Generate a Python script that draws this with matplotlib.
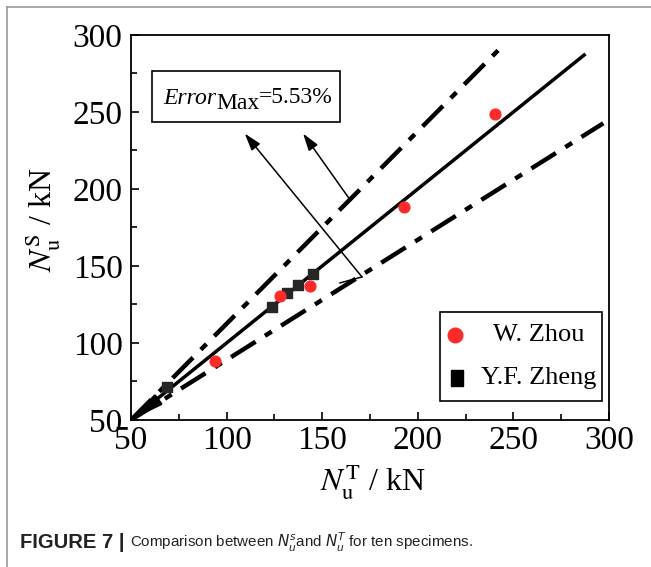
import matplotlib
matplotlib.use("Agg")
import matplotlib.pyplot as plt
from matplotlib.lines import Line2D
from matplotlib.patches import Rectangle

# test vs. simulated ultimate load, kN
zhou_test = [93.9, 127.9, 143.6, 192.8, 240.5]
zhou_sim = [88.5, 130.7, 137.2, 188.1, 248.7]
zheng_test = [68.8, 123.7, 131.6, 137.3, 145.2]
zheng_sim = [71.4, 123.4, 132.5, 137.7, 144.8]

# reference lines start at (50, 50)
origin = 50
solid_end = 287
upper_slope, upper_end = 1.25, 246
lower_slope, lower_end = 0.78, 297

ticks = [50, 100, 150, 200, 250, 300]
minor_ticks = [75, 125, 175, 225, 275]

plt.rcParams['font.family'] = ['Liberation Serif', 'DejaVu Serif']
plt.rcParams['mathtext.fontset'] = 'stix'

W, H = 651, 567
fig = plt.figure(figsize=(W / 100, H / 100), dpi=100)
ax = fig.add_axes([0.2012, 0.2593, 0.7343, 0.679])
ax.set_xlim(50, 300)
ax.set_ylim(50, 300)

ax.plot([origin, solid_end], [origin, solid_end], color='black', lw=2.5, zorder=2)
dash = (6.5, 2.5, 1.8, 2.5)
ax.plot([origin, upper_end], [origin, origin + upper_slope * (upper_end - origin)],
        color='black', lw=3.2, dashes=dash, zorder=2)
ax.plot([origin, lower_end], [origin, origin + lower_slope * (lower_end - origin)],
        color='black', lw=3.2, dashes=dash, zorder=2)

ax.annotate('', xy=(50.3, 50.3), xytext=(64, 63),
            arrowprops=dict(arrowstyle='-|>,head_length=0.9,head_width=0.18',
                            color='black', lw=2.2, mutation_scale=20,
                            shrinkA=0, shrinkB=0), zorder=3)

ax.scatter(zhou_test, zhou_sim, marker='o', s=60, color='#ff2a2a', zorder=4)
ax.scatter(zheng_test, zheng_sim, marker='s', s=55, color='#262626', zorder=3)

# error box with pointers to the bounds
ax.add_patch(Rectangle((61, 243.5), 98.3, 33.1, fill=False, ec='black', lw=1.2, zorder=5))
fig.canvas.draw()
x0, y0 = ax.transData.transform((66.7, 255.0))
t1 = fig.text(x0 / W, y0 / H, 'Error', fontsize=17, style='italic', va='baseline')
fig.canvas.draw()
x1 = t1.get_window_extent().x1
t2 = fig.text(x1 / W, (y0 - 5) / H, 'Max', fontsize=17, va='baseline')
fig.canvas.draw()
x2 = t2.get_window_extent().x1
fig.text(x2 / W, (y0 + 1) / H, '=5.53%', fontsize=17, va='baseline')

arrow_kw = dict(arrowstyle='-|>,head_length=0.7,head_width=0.22', color='black',
                lw=1.1, mutation_scale=15, shrinkA=0, shrinkB=0)
ax.annotate('', xy=(140, 236), xytext=(164.5, 193.1), arrowprops=arrow_kw)
ax.annotate('', xy=(109.5, 236), xytext=(170.8, 142.9), arrowprops=arrow_kw)
ax.plot([170.8, 159.3], [142.9, 139.0], color='black', lw=1.1)

ax.set_xticks(ticks)
ax.set_yticks(ticks)
ax.set_xticks(minor_ticks, minor=True)
ax.set_yticks(minor_ticks, minor=True)
ax.tick_params(which='both', direction='in', labelsize=24, width=1.2)
ax.tick_params(axis='x', pad=4)
ax.tick_params(axis='y', pad=6)
ax.tick_params(which='major', length=6)
ax.tick_params(which='minor', length=4)
for s in ax.spines.values():
    s.set_linewidth(1.3)

ax.set_xlabel(r'$N_{\mathrm{u}}^{\mathrm{T}}$ / kN', fontsize=23)
ax.set_ylabel(r'$N_{\mathrm{u}}^{\mathrm{S}}$ / kN', fontsize=23)
ax.xaxis.set_label_coords(0.506, -0.11)
ax.yaxis.set_label_coords(-0.145, 0.52)

# legend box, labels centred in the right part
ax.add_patch(Rectangle((0.6464, 0.0494), 0.339, 0.2311, transform=ax.transAxes,
                       fill=False, ec='black', lw=1.2, zorder=6))
ax.plot([0.678], [0.221], marker='o', ms=10.5, color='#ff2a2a', ls='none',
        transform=ax.transAxes, zorder=6)
rect_marker = [(-0.72, -1), (0.72, -1), (0.72, 1), (-0.72, 1), (-0.72, -1)]
ax.plot([0.683], [0.110], marker=rect_marker, ms=12, color='black', ls='none',
        transform=ax.transAxes, zorder=6)
ax.text(0.853, 0.221, 'W. Zhou', fontsize=19, ha='center', va='center',
        transform=ax.transAxes, zorder=6)
ax.text(0.853, 0.110, 'Y.F. Zheng', fontsize=19, ha='center', va='center',
        transform=ax.transAxes, zorder=6)

# page frame lines
fig.add_artist(Line2D([7 / W, 7 / W], [0, 1 - 7 / H], color='#9a9a9a', lw=1.2))
fig.add_artist(Line2D([7 / W, 1], [1 - 7 / H, 1 - 7 / H], color='#9a9a9a', lw=1.2))

# caption
cap_y = 1 - 548 / H
head = fig.text(20 / W, cap_y, 'FIGURE 7 |', fontsize=14.5, fontweight='bold',
                family='Liberation Sans', va='baseline', color='#222222')
fig.canvas.draw()
bb = head.get_window_extent()
fig.text(bb.x1 / W + 6 / W, cap_y,
         r'Comparison between $N_u^s$and $N_u^T$ for ten specimens.',
         fontsize=10.9, family='Liberation Sans', math_fontfamily='dejavusans',
         va='baseline', color='#222222')

fig.savefig('out.png', dpi=100)
